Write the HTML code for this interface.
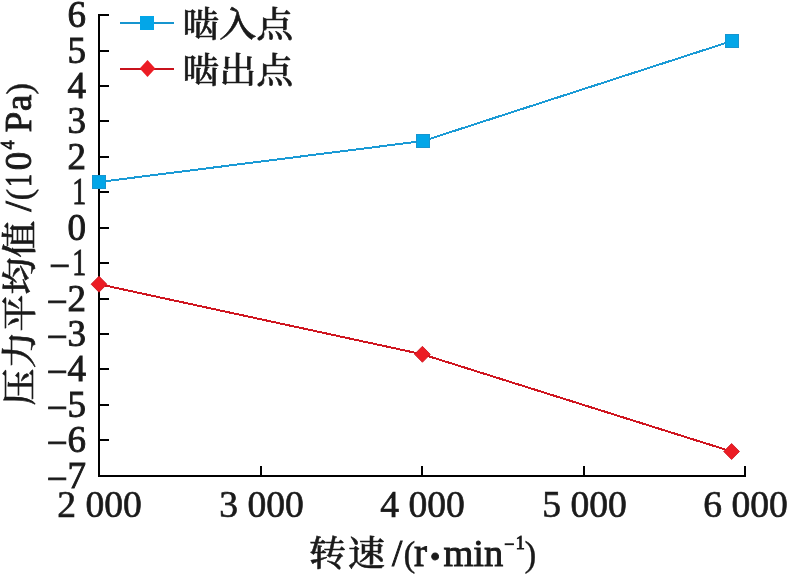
<!DOCTYPE html>
<html><head><meta charset="utf-8"><style>
html,body{margin:0;padding:0;background:#fff;}
svg{display:block;}
.lat{font-family:"Liberation Serif","Noto Serif CJK SC",serif;stroke:#1a1a1a;stroke-width:0.9px;}
.cjk{font-family:"Liberation Serif","Noto Serif CJK SC",serif;font-weight:500;stroke:#1a1a1a;stroke-width:0.6px;}
.cjk .l{font-weight:400;stroke:#1a1a1a;stroke-width:0.9px;}
.cjk .p{stroke-width:0.35px;}
</style></head><body>
<svg width="788" height="575" viewBox="0 0 788 575">
<rect width="788" height="575" fill="#fff"/>
<g stroke="#000" stroke-width="2" fill="none">
<line x1="99" y1="14" x2="99" y2="476"/>
<line x1="98" y1="476" x2="746" y2="476"/>
<line x1="100" y1="15.00" x2="109" y2="15.00"/>
<line x1="100" y1="51.00" x2="109" y2="51.00"/>
<line x1="100" y1="86.00" x2="109" y2="86.00"/>
<line x1="100" y1="121.00" x2="109" y2="121.00"/>
<line x1="100" y1="157.00" x2="109" y2="157.00"/>
<line x1="100" y1="192.00" x2="109" y2="192.00"/>
<line x1="100" y1="228.00" x2="109" y2="228.00"/>
<line x1="100" y1="263.00" x2="109" y2="263.00"/>
<line x1="100" y1="299.00" x2="109" y2="299.00"/>
<line x1="100" y1="334.00" x2="109" y2="334.00"/>
<line x1="100" y1="369.00" x2="109" y2="369.00"/>
<line x1="100" y1="405.00" x2="109" y2="405.00"/>
<line x1="100" y1="440.00" x2="109" y2="440.00"/>
<line x1="261.00" y1="466" x2="261.00" y2="475"/>
<line x1="422.00" y1="466" x2="422.00" y2="475"/>
<line x1="584.00" y1="466" x2="584.00" y2="475"/>
<line x1="745.00" y1="466" x2="745.00" y2="475"/>
</g>
<polyline points="99,182 423,141 732,41" fill="none" stroke="#1a9ad5" stroke-width="2" shape-rendering="crispEdges"/>
<polyline points="99,284.2 422.4,354.3 731.6,451.5" fill="none" stroke="#cf151f" stroke-width="2" shape-rendering="crispEdges"/>
<g fill="#03a6e8" stroke="#1795cf" stroke-width="1"><rect x="92.5" y="175.5" width="13" height="13"/>
<rect x="416.5" y="134.5" width="13" height="13"/>
<rect x="725.5" y="34.5" width="13" height="13"/></g>
<g fill="#ec1c24" stroke="#c8121c" stroke-width="0.8"><polygon points="99,276.2 106.9,284.2 99,292.2 91.1,284.2"/>
<polygon points="422.4,346.3 430.29999999999995,354.3 422.4,362.3 414.5,354.3"/>
<polygon points="731.6,443.5 739.5,451.5 731.6,459.5 723.7,451.5"/></g>
<line x1="120" y1="23" x2="174" y2="23" stroke="#1795cf" stroke-width="2"/>
<rect x="140" y="16" width="14" height="14" fill="#03a6e8"/>
<line x1="120" y1="69" x2="174" y2="69" stroke="#c8121c" stroke-width="2"/>
<polygon points="147.5,60 155.3,68.5 147.5,77 139.7,68.5" fill="#ec1c24"/>
<g class="lat" font-size="37" text-anchor="end" fill="#1a1a1a">
<text x="86" y="26.50">6</text>
<text x="86" y="62.50">5</text>
<text x="86" y="97.50">4</text>
<text x="86" y="132.50">3</text>
<text x="86" y="168.50">2</text>
<text transform="translate(86,203.50) scale(0.75,1)">1</text>
<text x="86" y="239.50">0</text>
<text x="70.0" y="278.40">−</text>
<text transform="translate(86,274.50) scale(0.75,1)">1</text>
<text x="86" y="310.50"><tspan dy="3.9">−</tspan><tspan dy="-3.9">2</tspan></text>
<text x="86" y="345.50"><tspan dy="3.9">−</tspan><tspan dy="-3.9">3</tspan></text>
<text x="86" y="380.50"><tspan dy="3.9">−</tspan><tspan dy="-3.9">4</tspan></text>
<text x="86" y="416.50"><tspan dy="3.9">−</tspan><tspan dy="-3.9">5</tspan></text>
<text x="86" y="451.50"><tspan dy="3.9">−</tspan><tspan dy="-3.9">6</tspan></text>
<text x="86" y="487.50"><tspan dy="3.9">−</tspan><tspan dy="-3.9">7</tspan></text>
</g>
<g class="lat" font-size="37.6" text-anchor="middle" fill="#1a1a1a" style="stroke-width:0.65px">
<text x="99.50" y="517.2">2 000</text>
<text x="261.50" y="517.2">3 000</text>
<text x="422.50" y="517.2">4 000</text>
<text x="584.50" y="517.2">5 000</text>
<text x="745.50" y="517.2">6 000</text>
</g>
<g class="cjk" font-size="37" fill="#1a1a1a">
<text transform="translate(182.3,37.1) scale(1,0.95)">啮入点</text>
<text transform="translate(182.3,82.7) scale(1,0.95)">啮出点</text>
<text transform="translate(0,566.1) scale(1,0.955)"><tspan x="309">转</tspan><tspan x="348">速 </tspan></text>
<text y="565.8"><tspan class="l" x="392">/</tspan><tspan class="l p" x="403.5" font-size="35.5">(</tspan><tspan class="l" x="414" font-size="39">r</tspan><tspan class="l" x="430" font-size="29.4" dy="1.5">•</tspan><tspan class="l" x="443.4" dy="-1.5" font-size="38.5">min</tspan><tspan class="l" font-size="18" x="504.3" dy="-15.9">−</tspan><tspan class="l" font-size="18" x="515.7" dy="-1.1">1</tspan><tspan class="l p" x="524.6" dy="17" font-size="35.5">)</tspan></text>
<text transform="translate(32,403) rotate(-90) scale(1,0.95)"><tspan x="-2.6">压力平均值</tspan></text>
<text transform="translate(31,403) rotate(-90)"><tspan class="l" x="191.4"> /</tspan><tspan class="l p" x="202.4" font-size="35.5">(</tspan></text>
<text class="l" transform="translate(31,403) rotate(-90) translate(216,0) scale(0.7,1)">1</text>
<text transform="translate(31,403) rotate(-90)"><tspan class="l" x="232.7">0</tspan><tspan class="l" font-size="18" x="253.6" dy="-17.1">4 </tspan><tspan class="l" x="270.7" dy="17.1">P</tspan><tspan class="l" x="292.1">a</tspan><tspan class="l p" x="308.3" font-size="35.5">)</tspan></text>
</g>
</svg>
</body></html>
